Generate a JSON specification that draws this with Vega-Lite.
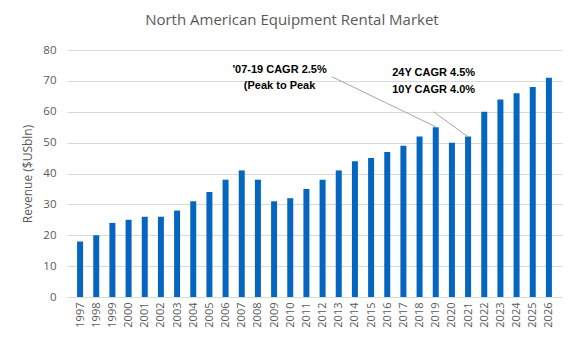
{
  "$schema": "https://vega.github.io/schema/vega-lite/v6.json",
  "width": 495,
  "height": 247,
  "padding": {"left": 21, "top": 13, "right": 5, "bottom": 5},
  "background": "white",
  "title": {
    "text": "North American Equipment Rental Market",
    "font": "Open Sans",
    "fontSize": 15,
    "fontWeight": "normal",
    "color": "#595959",
    "anchor": "middle",
    "frame": "bounds",
    "offset": 16
  },
  "config": {
    "view": {"stroke": null},
    "axis": {"labelFont": "Open Sans", "titleFont": "Open Sans", "labelColor": "#595959", "titleColor": "#595959"}
  },
  "datasets": {
    "rev": [
      {"year": 1997, "revenue": 18}, {"year": 1998, "revenue": 20}, {"year": 1999, "revenue": 24},
      {"year": 2000, "revenue": 25}, {"year": 2001, "revenue": 26}, {"year": 2002, "revenue": 26},
      {"year": 2003, "revenue": 28}, {"year": 2004, "revenue": 31}, {"year": 2005, "revenue": 34},
      {"year": 2006, "revenue": 38}, {"year": 2007, "revenue": 41}, {"year": 2008, "revenue": 38},
      {"year": 2009, "revenue": 31}, {"year": 2010, "revenue": 32}, {"year": 2011, "revenue": 35},
      {"year": 2012, "revenue": 38}, {"year": 2013, "revenue": 41}, {"year": 2014, "revenue": 44},
      {"year": 2015, "revenue": 45}, {"year": 2016, "revenue": 47}, {"year": 2017, "revenue": 49},
      {"year": 2018, "revenue": 52}, {"year": 2019, "revenue": 55}, {"year": 2020, "revenue": 50},
      {"year": 2021, "revenue": 52}, {"year": 2022, "revenue": 60}, {"year": 2023, "revenue": 64},
      {"year": 2024, "revenue": 66}, {"year": 2025, "revenue": 68}, {"year": 2026, "revenue": 71}
    ],
    "notes": [
      {"year": 2009.34, "revenue": 73.5, "label": "'07-19 CAGR 2.5%"},
      {"year": 2009.34, "revenue": 68.3, "label": "(Peak to Peak"},
      {"year": 2018.87, "revenue": 72.5, "label": "24Y CAGR 4.5%"},
      {"year": 2018.87, "revenue": 67.0, "label": "10Y CAGR 4.0%"}
    ],
    "lines": [
      {"year": 2012.57, "revenue": 71.35, "year2": 2019.06, "revenue2": 54.96},
      {"year": 2018.86, "revenue": 60.0, "year2": 2020.99, "revenue2": 51.9}
    ]
  },
  "encoding": {
    "x": {
      "field": "year", "type": "quantitative",
      "scale": {"domain": [1996.5, 2026.5], "nice": false, "zero": false},
      "axis": {
        "title": null,
        "values": [1997,1998,1999,2000,2001,2002,2003,2004,2005,2006,2007,2008,2009,2010,2011,2012,2013,2014,2015,2016,2017,2018,2019,2020,2021,2022,2023,2024,2025,2026],
        "format": "d",
        "labelAngle": -90,
        "labelFontSize": 11,
        "labelPadding": 5,
        "grid": false,
        "ticks": false,
        "domainColor": "#d9d9d9",
        "labelFlush": false,
        "labelOverlap": false
      }
    },
    "y": {
      "field": "revenue", "type": "quantitative",
      "scale": {"domain": [0, 80], "nice": false},
      "axis": {
        "title": "Revenue ($USbln)",
        "titleFontSize": 12,
        "titleFontWeight": "normal",
        "titlePadding": 8,
        "values": [0,10,20,30,40,50,60,70,80],
        "labelFontSize": 11.5,
        "labelPadding": 11,
        "labelOverlap": false,
        "domain": false,
        "ticks": false,
        "gridColor": "#d9d9d9"
      }
    }
  },
  "layer": [
    {
      "data": {"name": "rev"},
      "mark": {"type": "bar", "color": "#0566c0", "size": 6}
    },
    {
      "data": {"name": "lines"},
      "mark": {"type": "rule", "color": "#a6a6a6", "strokeWidth": 1},
      "encoding": {
        "x2": {"field": "year2"},
        "y2": {"field": "revenue2"}
      }
    },
    {
      "data": {"name": "notes"},
      "mark": {"type": "text", "font": "Liberation Sans", "fontSize": 11, "fontWeight": "bold", "color": "black", "align": "center", "baseline": "middle"},
      "encoding": {
        "text": {"field": "label"}
      }
    }
  ]
}
